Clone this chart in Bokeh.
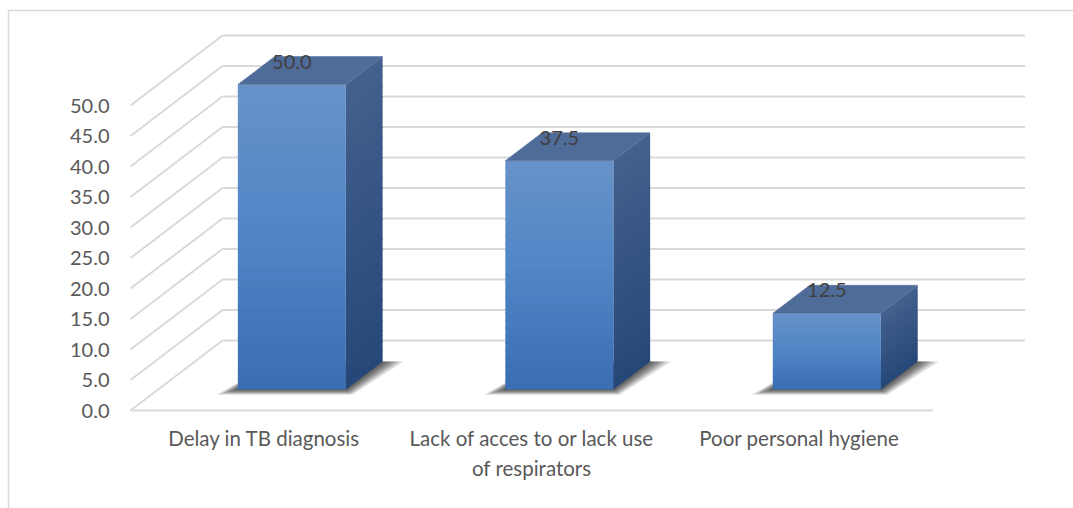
import numpy as np
from bokeh.plotting import figure
from bokeh.models import Range1d
from bokeh.core.properties import value
from bokeh.embed import file_html
from bokeh.resources import INLINE

# ---------------- data ----------------
categories = ["Delay in TB diagnosis",
              "Lack of acces to or lack use\nof respirators",
              "Poor personal hygiene"]
values = [50.0, 37.5, 12.5]
value_labels = ["50.0", "37.5", "12.5"]
y_ticks = [0, 5, 10, 15, 20, 25, 30, 35, 40, 45, 50]
y_tick_labels = ["0.0", "5.0", "10.0", "15.0", "20.0", "25.0",
                 "30.0", "35.0", "40.0", "45.0", "50.0"]

# ---------------- layout constants (pixels) ----------------
W, H = 1073, 508
X0, SLOT = 130.0, 267.5      # front-left floor corner, px per category
Y0, PPU = 410.0, 6.1         # value-0 line on front plane, px per unit
DXP, DYP = 92.0, 70.0        # depth of the 3D box in px
DX, DY = DXP / SLOT, DYP / PPU
F0, F1 = 0.30, 0.70          # bar depth span (fraction of full depth)
BW = 108.0 / SLOT            # bar width in category units
FONT = "Lato"
GRID = "#D9D9D9"

p = figure(width=W, height=H, output_backend="svg", toolbar_location=None,
           x_range=Range1d(-X0 / SLOT, (W - X0) / SLOT),
           y_range=Range1d((Y0 - H) / PPU, Y0 / PPU),
           x_axis_location=None, y_axis_location=None, min_border=0)
p.grid.visible = False
p.outline_line_color = None
p.background_fill_color = "white"
p.border_fill_color = "white"

n = len(categories)
xmin, xmax = -X0 / SLOT, (W - X0) / SLOT
ymin, ymax = (Y0 - H) / PPU, Y0 / PPU

# outer chart border (left and top)
bx = (8 - X0) / SLOT
by = (Y0 - 10) / PPU
p.line([bx, bx, xmax], [ymin, by, by], line_color=GRID, line_width=1.5)

# ---------------- walls / gridlines ----------------
t = np.array(y_ticks, dtype=float)
p.segment(x0=np.zeros_like(t), y0=t, x1=np.full_like(t, DX), y1=t + DY,
          line_color=GRID, line_width=2)
p.segment(x0=np.full_like(t, DX), y0=t + DY, x1=np.full_like(t, n + DX), y1=t + DY,
          line_color=GRID, line_width=2)
p.segment(x0=[0], y0=[0], x1=[n], y1=[0], line_color=GRID, line_width=2)


def hex2rgb(h):
    h = h.lstrip("#")
    return np.array([int(h[i:i + 2], 16) for i in (0, 2, 4)], dtype=float)


def rgb2hex(c):
    return "#%02x%02x%02x" % tuple(int(round(v)) for v in c)


def grad(stops, f):
    for (p0, c0), (p1, c1) in zip(stops[:-1], stops[1:]):
        if p0 <= f <= p1:
            a = (f - p0) / (p1 - p0) if p1 > p0 else 0
            return rgb2hex(hex2rgb(c0) * (1 - a) + hex2rgb(c1) * a)
    return stops[-1][1]


FRONT = [(0.0, "#3A6DB2"), (0.5, "#4F85C5"), (1.0, "#6892C9")]   # bottom -> top
SIDE = [(0.0, "#254878"), (1.0, "#44608E")]
TOP = "#4F6B98"
NS = 30
OV = 1.2 / PPU   # overlap between strips

centers = np.arange(n) + 0.5

# ---------------- shadows ----------------
sh_xs, sh_ys = [], []
for c in centers:
    xl, xr = c - BW / 2, c + BW / 2
    for e in [2, 5, 8, 11, 14, 17, 21]:
        ex = e / SLOT
        ey = e * 0.25 / PPU
        sh_xs.append([xl - ex + F0 * DX, xr + ex * 0.3 + F0 * DX,
                      xr + ex + F1 * DX, xl + F1 * DX])
        sh_ys.append([F0 * DY - ey, F0 * DY - ey, F1 * DY, F1 * DY])
p.patches(sh_xs, sh_ys, fill_color="#111111", fill_alpha=0.14, line_color=None)

# ---------------- bars ----------------
fq_l, fq_r, fq_b, fq_t, fq_c = [], [], [], [], []
sd_xs, sd_ys, sd_c = [], [], []
tp_xs, tp_ys = [], []
for c, v in zip(centers, values):
    xl, xr = c - BW / 2, c + BW / 2
    for k in range(NS):
        a0, a1 = k / NS, (k + 1) / NS
        y0s, y1s = v * a0, v * a1
        ov = OV if k < NS - 1 else 0
        fq_l.append(xl + F0 * DX)
        fq_r.append(xr + F0 * DX)
        fq_b.append(y0s + F0 * DY)
        fq_t.append(y1s + F0 * DY + ov)
        fq_c.append(grad(FRONT, (a0 + a1) / 2))
        sd_xs.append([xr + F0 * DX, xr + F1 * DX, xr + F1 * DX, xr + F0 * DX])
        sd_ys.append([y0s + F0 * DY, y0s + F1 * DY,
                      y1s + F1 * DY + ov, y1s + F0 * DY + ov])
        sd_c.append(grad(SIDE, (a0 + a1) / 2))
    tp_xs.append([xl + F0 * DX, xr + F0 * DX, xr + F1 * DX, xl + F1 * DX])
    tp_ys.append([v + F0 * DY, v + F0 * DY, v + F1 * DY, v + F1 * DY])

p.patches(sd_xs, sd_ys, fill_color=sd_c, line_color=None)
p.quad(left=fq_l, right=fq_r, bottom=fq_b, top=fq_t, fill_color=fq_c,
       line_color=None)
p.patches(tp_xs, tp_ys, fill_color=TOP, line_color=TOP, line_width=0.5)

# ---------------- texts ----------------
p.text(x=np.zeros_like(t), y=t, text=y_tick_labels, x_offset=-21,
       text_align="right", text_baseline="middle",
       text_font=value(FONT), text_font_size=value("20px"),
       text_color="#595959")

p.text(x=list(centers), y=[-(425 - Y0) / PPU] * n, text=categories,
       text_align="center", text_baseline="top",
       text_font=value(FONT), text_font_size=value("20.5px"),
       text_color="#595959", text_line_height=1.25)

p.text(x=list(centers + F0 * DX), y=[v + F0 * DY + 23 / PPU for v in values],
       text=value_labels, text_align="center", text_baseline="middle",
       text_font=value(FONT), text_font_size=value("20px"),
       text_color="#404040")

open("out.html", "w").write(file_html(p, INLINE))
